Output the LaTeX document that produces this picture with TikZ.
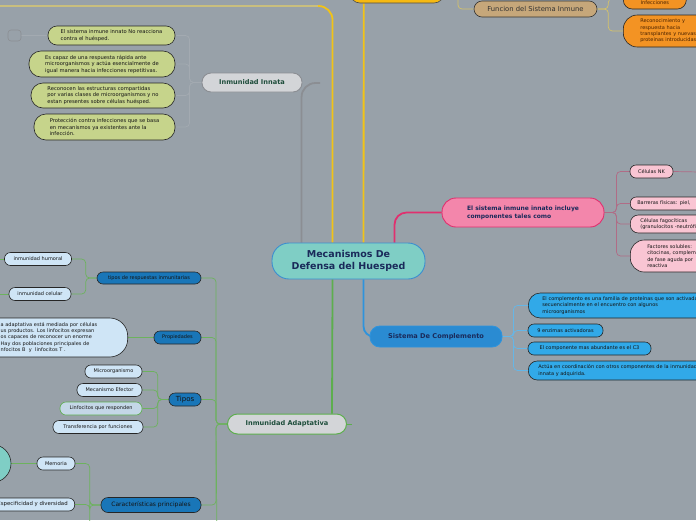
\documentclass[tikz,border=0pt]{standalone}
\usepackage{fontspec}
\setmainfont{DejaVu Sans}
\usepackage{xcolor}
\usepackage{tikz}

\definecolor{fondo}{HTML}{98A1A9}
\definecolor{centrofill}{HTML}{7FCEC5}
\definecolor{centroedge}{HTML}{3B8ED0}
\definecolor{navytext}{HTML}{1A2A5A}
\definecolor{greytitle}{HTML}{D3D5D8}
\definecolor{greyedge}{HTML}{8B8E93}
\definecolor{darkgreen}{HTML}{1E4D3B}
\definecolor{innatafill}{HTML}{C6D48B}
\definecolor{twiggrey}{HTML}{A3AAB1}
\definecolor{yellowline}{HTML}{F2C317}
\definecolor{paleyellow}{HTML}{C9BE7E}
\definecolor{hubfill}{HTML}{F6B912}
\definecolor{funcfill}{HTML}{C6A77A}
\definecolor{orangefill}{HTML}{F39323}
\definecolor{browntext}{HTML}{4A2200}
\definecolor{yellowtwig}{HTML}{D4C26A}
\definecolor{pinkline}{HTML}{E0306F}
\definecolor{pinkfill}{HTML}{F386AB}
\definecolor{pinkleaf}{HTML}{F9C5D3}
\definecolor{pinktwig}{HTML}{B06C86}
\definecolor{blueline}{HTML}{2E93DC}
\definecolor{bluefill}{HTML}{2A8BD2}
\definecolor{blueleaf}{HTML}{31A9E8}
\definecolor{bluetwig}{HTML}{66B6E6}
\definecolor{greenline}{HTML}{5DAE4E}
\definecolor{darkblue}{HTML}{1976B8}
\definecolor{lightblue}{HTML}{CFE5F6}
\definecolor{greentwig}{HTML}{6DB25E}

\pgfdeclarelayer{backdrop}
\pgfdeclarelayer{lines}
\pgfsetlayers{backdrop,lines,main}

\begin{document}
\begin{tikzpicture}[x=1pt,y=-1pt,
    box/.style={rectangle,inner sep=0pt,line width=0.6pt,align=center},
    wh/.style 2 args={minimum width=#1pt,minimum height=#2pt},
    title/.style={box,line width=0.9pt,font=\fontsize{6.6}{8}\selectfont\bfseries},
    leaf/.style={box,draw=black!85,text=black!92,font=\fontsize{5}{6.3}\selectfont,rounded corners=6pt},
    branch/.style={line width=1.8pt,rounded corners=12pt},
    twig/.style={line width=0.7pt,rounded corners=4pt}]
    \useasboundingbox (0,0) rectangle (696,520);
    \begin{pgfonlayer}{backdrop}
        \fill[fondo] (0,0) rectangle (696,520);
    \end{pgfonlayer}

    % Centre
    \node[box,fill=centrofill,draw=centroedge,line width=0.9pt,rounded corners=17pt,wh={153}{36},
        text=navytext,font=\fontsize{9.5}{12}\selectfont\bfseries] (centro) at (348.5,261) {Mecanismos De\\Defensa del Huesped};

    % Inmunidad Innata
    \node[title,fill=greytitle,draw=greyedge,text=darkgreen,rounded corners=9pt,wh={100}{19}] (innata) at (252,82.5) {Inmunidad Innata};
    \node[leaf,fill=innatafill,rounded corners=9pt,wh={127}{19},align=left,font=\fontsize{5.2}{6.5}\selectfont] (g1) at (111.5,35.5) {El sistema inmune innato No reacciona\\contra el huésped.};
    \node[leaf,fill=innatafill,rounded corners=12pt,wh={146}{26},align=left,font=\fontsize{5.2}{6.5}\selectfont] (g2) at (102,64) {Es capaz de una respuesta rápida ante\\microorganismos y actúa esencialmente de\\igual manera hacia infecciones repetitivas.};
    \node[leaf,fill=innatafill,rounded corners=12pt,wh={144}{25},align=left,font=\fontsize{5.2}{6.5}\selectfont] (g3) at (103,95.5) {Reconocen las estructuras compartidas\\por varias clases de microorganismos y no\\estan presentes sobre células huésped.};
    \node[leaf,fill=innatafill,rounded corners=12pt,wh={141}{26},align=left,font=\fontsize{5.2}{6.5}\selectfont] (g4) at (104.5,127) {Protección contra infecciones que se basa\\en mecanismos ya existentes ante la\\infección.};
    \node[box,draw=greyedge,rounded corners=3pt,wh={13}{11}] (marco) at (14.5,35.5) {};
    \coordinate (innatatip) at (320,83);

    % Funcion del Sistema Inmune
    \node[box,fill=hubfill,draw=black!70,rounded corners=10pt,wh={94}{30}] (raiz) at (397,-12) {};
    \node[box,fill=funcfill,draw=black!80,text=black!80,rounded corners=8pt,wh={123}{16},font=\fontsize{6.8}{8}\selectfont] (funcion) at (535.5,9) {Funcion del Sistema Inmune};
    \node[leaf,fill=orangefill,text=browntext,anchor=west,rounded corners=9pt,wh={63}{21},text height=13pt,text depth=1pt] (infec) at (623,-1.5) {Infecciones};
    \node[leaf,fill=orangefill,text=browntext,anchor=west,rounded corners=14pt,minimum height=32pt,text width=80pt,inner xsep=17pt,align=left] (recon) at (623,31) {Reconocimiento y\\respuesta hacia\\transplantes y nuevas\\proteinas introducidas};
    \coordinate (bordeizq) at (-5,6);
    \coordinate (bordemed) at (318,6);
    \coordinate (funtop) at (458,-5);

    % El sistema inmune innato incluye
    \node[box,fill=pinkfill,draw=pinkline,line width=0.9pt,text=navytext,rounded corners=14pt,wh={162}{29},align=left,
        font=\fontsize{6}{8}\selectfont\bfseries] (comp) at (523,212.5) {El sistema inmune innato incluye\\componentes tales como};
    \node[leaf,fill=pinkleaf,wh={43}{13}] (nk) at (651.5,171.5) {Células NK};
    \node[leaf,fill=pinkleaf,anchor=west,minimum height=13pt,text width=100pt,inner xsep=7pt,align=left] (barreras) at (630,203.5) {Barreras físicas: piel,};
    \node[leaf,fill=pinkleaf,anchor=west,rounded corners=8pt,minimum height=18pt,text width=100pt,inner xsep=10pt,align=left] (fagoc) at (630,224) {Células fagocíticas\\(granulocitos -neutrófilos};
    \node[leaf,fill=pinkleaf,anchor=west,rounded corners=14pt,minimum height=32pt,text width=100pt,inner xsep=17pt,align=left] (factores) at (630,256) {Factores solubles:\\citocinas, complemento\\de fase aguda por\\reactiva};
    \coordinate (nkmas) at (700,172);

    % Sistema De Complemento
    \node[title,fill=bluefill,draw=blueline,text=navytext,rounded corners=10pt,wh={132}{21}] (complemento) at (436,336.5) {Sistema De Complemento};
    \node[leaf,fill=blueleaf,anchor=west,rounded corners=12pt,minimum height=25pt,text width=200pt,inner xsep=14pt,align=left] (c1) at (528,305.5) {El complemento es una familia de proteínas que son activadas\\secuencialmente en el encuentro con algunos\\microorganismos};
    \node[leaf,fill=blueleaf,wh={75}{13}] (c2) at (565.5,330.5) {9 enzimas activadoras};
    \node[leaf,fill=blueleaf,wh={123}{13}] (c3) at (589.5,348.5) {El componente mas abundante es el C3};
    \node[leaf,fill=blueleaf,anchor=west,rounded corners=9pt,minimum height=19pt,text width=200pt,inner xsep=10pt,align=left] (c4) at (528,370.5) {Actúa en coordinación con otros componentes de la inmunidad\\innata y adquirida.};

    % Inmunidad Adaptativa
    \node[title,fill=greytitle,draw=greenline,line width=1pt,text=darkgreen,rounded corners=10pt,wh={119}{20}] (adaptativa) at (287,424) {Inmunidad Adaptativa};
    \node[leaf,fill=darkblue,wh={104}{12}] (tiposresp) at (149,278) {tipos de respuestas inmunitarias};
    \node[leaf,fill=darkblue,wh={47}{13}] (propiedades) at (177.5,337.5) {Propiedades};
    \node[leaf,fill=darkblue,wh={32}{13},font=\fontsize{7}{8}\selectfont] (tipos) at (185,399.5) {Tipos};
    \node[leaf,fill=darkblue,rounded corners=7pt,wh={100}{15},font=\fontsize{6}{7}\selectfont] (caract) at (151,505) {Características principales};
    \node[leaf,fill=lightblue,wh={67}{13}] (humoral) at (38,259) {inmunidad humoral};
    \node[leaf,fill=lightblue,wh={62}{13}] (celular) at (40,294) {inmunidad celular};
    \node[leaf,fill=lightblue,anchor=east,rounded corners=18pt,minimum height=39pt,text width=107pt,inner xsep=20pt,align=left] (propdesc) at (128,337.5) {a adaptativa está mediada por células\\us productos. Los linfocitos expresan\\os capaces de reconocer un enorme\\ Hay dos poblaciones principales de\\nfocitos B \ y \ linfocitos T .};
    \node[leaf,fill=lightblue,wh={57}{13}] (micro) at (113.5,371.5) {Microorganismo};
    \node[leaf,fill=lightblue,wh={65}{13}] (efector) at (109.5,390) {Mecanismo Efector};
    \node[leaf,fill=lightblue!80!fondo,draw=greenline,wh={82}{13}] (linfresp) at (101,408.5) {Linfocitos que responden};
    \node[leaf,fill=lightblue,wh={90}{13}] (transf) at (98,427) {Transferencia por funciones};
    \node[circle,fill=centrofill,draw=black!85,line width=0.6pt,minimum size=38pt,inner sep=0pt] (memcirculo) at (-8,463.5) {};
    \node[leaf,fill=lightblue,wh={38}{13}] (memoria) at (56,463.5) {Memoria};
    \node[leaf,fill=lightblue,anchor=east,minimum height=13pt,inner xsep=7pt,font=\fontsize{5.4}{6.3}\selectfont] (espec) at (75,504.5) {Especificidad y diversidad};
    \coordinate (adaptmas) at (217,540);
    \coordinate (caractmas) at (90,540);
    \coordinate (humoralmas) at (-5,259);
    \coordinate (celularmas) at (-5,294);

    \begin{pgfonlayer}{lines}
        % Innata branch
        \draw[branch,greyedge,rounded corners=14pt] ([xshift=30pt]centro.north west) |- (innatatip);
        \foreach \n in {g1,g2,g3,g4}
            \draw[twig,twiggrey] (innata.west) -- ++(-12,0) |- (\n.east);
        \draw[twig,twiggrey] (marco.east) -- (g1.west);

        % Yellow branches
        \draw[branch,yellowline,rounded corners=14pt] ([xshift=61pt]centro.north west) |- (bordeizq);
        \draw[line width=1.8pt,paleyellow] (bordeizq) -- (bordemed);
        \draw[branch,yellowline] ([xshift=92pt]centro.north west) -- ([xshift=14pt]raiz.south west);
        \draw[twig,yellowtwig] (funtop) |- (funcion.west);
        \foreach \n in {infec,recon}
            \draw[twig,yellowtwig] (funcion.east) -- ++(11,0) |- (\n.west);

        % Pink branch
        \draw[branch,pinkline] ([xshift=123pt]centro.north west) |- (comp.west);
        \foreach \n in {nk,barreras,fagoc,factores}
            \draw[twig,pinktwig] (comp.east) -- ++(12,0) |- (\n.west);
        \draw[twig,pinktwig] (nk.east) -- (nkmas);

        % Blue branch
        \draw[branch,blueline,rounded corners=10pt] ([xshift=92pt]centro.south west) |- (complemento.center);
        \foreach \n in {c1,c2,c3,c4}
            \draw[twig,bluetwig] (complemento.east) -- ++(11,0) |- (\n.west);

        % Green branch
        \draw[branch,greenline] ([xshift=61pt]centro.south west) -- ([xshift=105pt]adaptativa.north west);
        \draw[twig,greenline] (adaptativa.east) -- ++(5,0);
        \foreach \n in {tiposresp,propiedades,tipos,caract}
            \draw[twig,greentwig] (adaptativa.west) -- ++(-11,0) |- (\n.east);
        \draw[twig,greentwig] (adaptativa.west) -- ++(-11,0) -- (adaptmas);
        \foreach \n in {humoral,celular}
            \draw[twig,greentwig] (tiposresp.west) -- ++(-11,0) |- (\n.east);
        \draw[twig,greentwig] (humoral.west) -- (humoralmas);
        \draw[twig,greentwig] (celular.west) -- (celularmas);
        \draw[twig,greentwig] (propiedades.west) -- (propdesc.east);
        \foreach \n in {micro,efector,linfresp,transf}
            \draw[twig,greentwig] (tipos.west) -- ++(-11,0) |- (\n.east);
        \foreach \n in {memoria,espec}
            \draw[twig,greentwig] (caract.west) -- ++(-11,0) |- (\n.east);
        \draw[twig,greentwig] (caract.west) -- ++(-11,0) -- (caractmas);
        \draw[twig,greentwig] (memoria.west) -- (memcirculo.east);
    \end{pgfonlayer}
\end{tikzpicture}
\end{document}
